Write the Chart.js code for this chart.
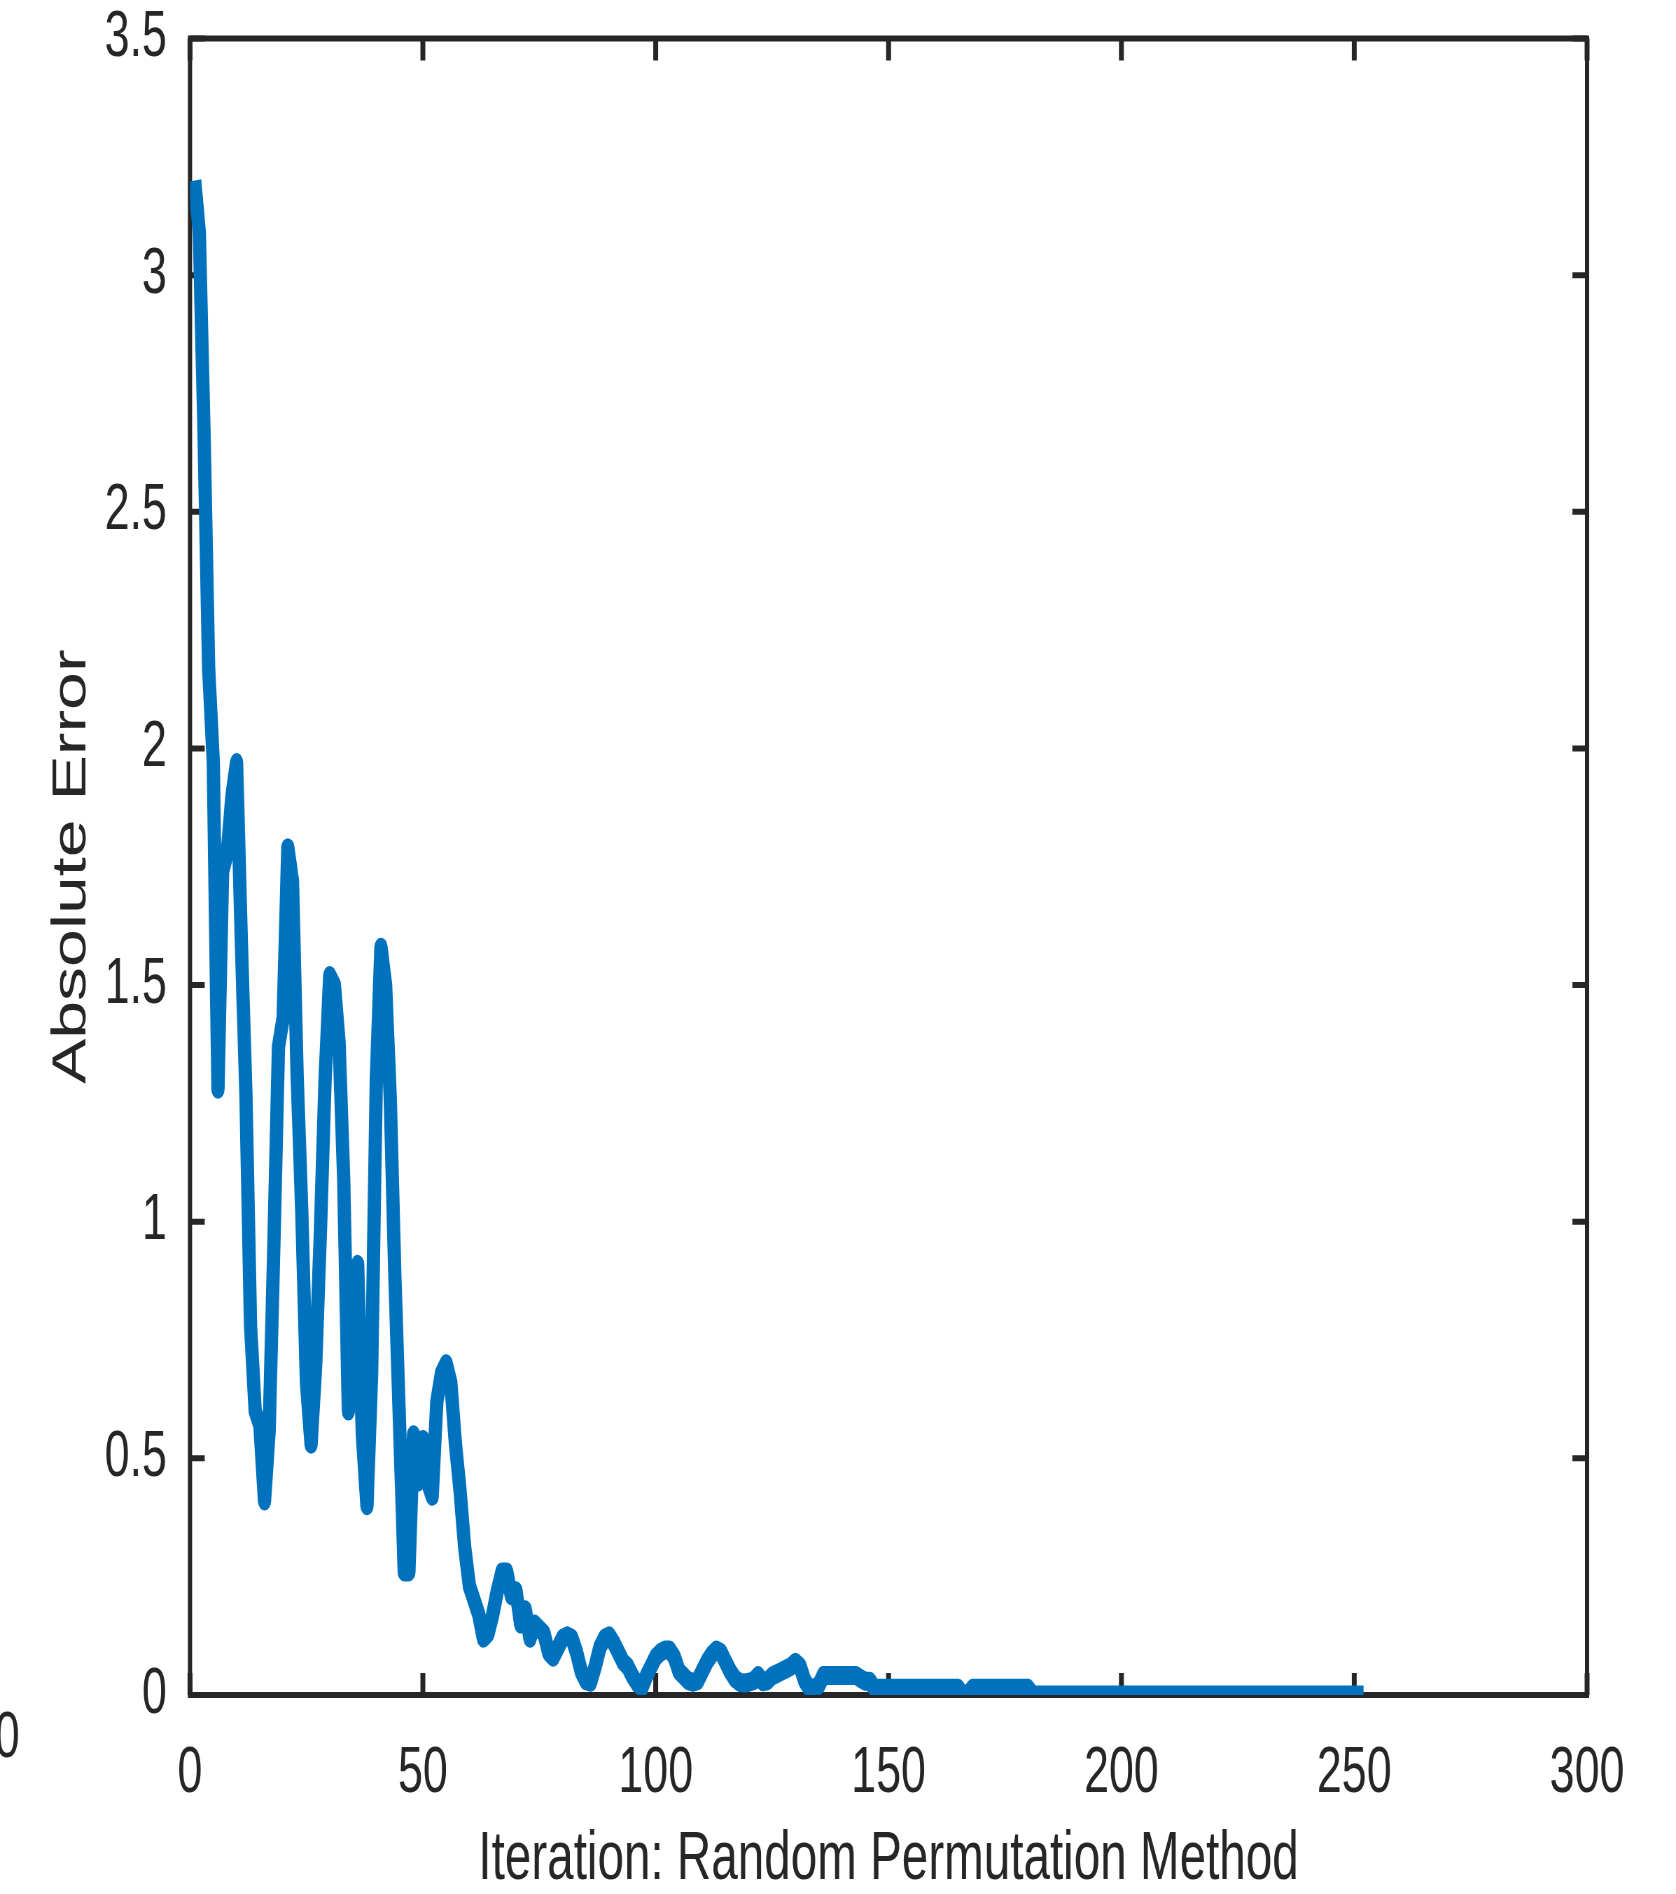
<!DOCTYPE html>
<html lang="en">
<head>
<meta charset="UTF-8">
<title>Absolute Error - Random Permutation Method</title>
<script src="https://cdn.jsdelivr.net/npm/chart.js@4"></script>
<style>
    body {
        margin: 0;
        background: #ffffff;
    }
    #wrap {
        width: 1676px;
        height: 1894px;
        overflow: hidden;
    }
    /* the original figure is squeezed horizontally, so draw wide and squeeze */
    #chart {
        width: 2394px;
        height: 1894px;
        transform: scaleX(0.70008);
        transform-origin: 0 0;
    }
</style>
</head>
<body>
<div id="wrap">
    <canvas id="chart" width="2394" height="1894"></canvas>
</div>
<script>
// absolute error per iteration (iteration 1 .. 252)
const errors = [
    3.20, 3.09, 2.67, 2.17, 1.97, 1.28, 1.74, 1.78, 1.90, 1.97,
    1.60, 1.27, 0.78, 0.60, 0.57, 0.41, 0.56, 0.95, 1.37, 1.43,
    1.79, 1.72, 1.31, 1.02, 0.66, 0.53, 0.70, 0.98, 1.30, 1.52,
    1.50, 1.38, 1.09, 0.60, 0.80, 0.91, 0.55, 0.40, 0.68, 1.30,
    1.58, 1.50, 1.26, 0.88, 0.57, 0.26, 0.26, 0.55, 0.45, 0.54,
    0.45, 0.42, 0.62, 0.68, 0.70, 0.66, 0.53, 0.43, 0.31, 0.23,
    0.20, 0.17, 0.12, 0.13, 0.17, 0.22, 0.26, 0.26, 0.21, 0.22,
    0.15, 0.18, 0.12, 0.15, 0.14, 0.13, 0.09, 0.08, 0.10, 0.12,
    0.125, 0.12, 0.09, 0.05, 0.03, 0.027, 0.06, 0.10, 0.12, 0.125,
    0.11, 0.09, 0.07, 0.06, 0.04, 0.025, 0.015, 0.04, 0.06, 0.08,
    0.09, 0.095, 0.095, 0.08, 0.05, 0.04, 0.03, 0.027, 0.03, 0.05,
    0.07, 0.085, 0.095, 0.09, 0.07, 0.05, 0.035, 0.027, 0.025, 0.027,
    0.03, 0.041, 0.028, 0.03, 0.04, 0.045, 0.05, 0.055, 0.06, 0.069,
    0.06, 0.03, 0.015, 0.015, 0.02, 0.041, 0.041, 0.041, 0.041, 0.041,
    0.041, 0.041, 0.041, 0.035, 0.029, 0.029, 0.014, 0.014, 0.014, 0.014,
    0.014, 0.014, 0.014, 0.014, 0.014, 0.014, 0.014, 0.014, 0.014, 0.014,
    0.014, 0.014, 0.014, 0.014, 0.014, 0, 0, 0.014, 0.014, 0.014,
    0.014, 0.014, 0.014, 0.014, 0.014, 0.014, 0.014, 0.014, 0.014, 0.014,
    0, 0, 0, 0, 0, 0, 0, 0, 0, 0,
    0, 0, 0, 0, 0, 0, 0, 0, 0, 0,
    0, 0, 0, 0, 0, 0, 0, 0, 0, 0,
    0, 0, 0, 0, 0, 0, 0, 0, 0, 0,
    0, 0, 0, 0, 0, 0, 0, 0, 0, 0,
    0, 0, 0, 0, 0, 0, 0, 0, 0, 0,
    0, 0, 0, 0, 0, 0, 0, 0, 0, 0,
    0, 0
];

const xTicks = [0, 50, 100, 150, 200, 250, 300];
const yTicks = [0, 0.5, 1, 1.5, 2, 2.5, 3, 3.5];

const xTitle = "Iteration: Random Permutation Method";
const yTitle = "Absolute Error";

const lineColor = "#0072BD";
const axisColor = "#262626";
const fontFamily = "'Liberation Sans', Arial, Helvetica, sans-serif";

const points = errors.map((v, k) => ({ x: k + 1, y: v }));

// MATLAB style box with inward ticks on all four sides
const boxPlugin = {
    id: "box",
    beforeDatasetsDraw(chart) {
        const { ctx, chartArea: a, scales } = chart;
        ctx.save();
        ctx.strokeStyle = axisColor;
        ctx.lineWidth = 6;
        ctx.strokeRect(a.left, a.top, a.right - a.left, a.bottom - a.top);

        ctx.beginPath();
        ctx.lineWidth = 7;
        scales.x.ticks.forEach(t => {
            const px = scales.x.getPixelForValue(t.value);
            ctx.moveTo(px, a.bottom);
            ctx.lineTo(px, a.bottom - 22);
            ctx.moveTo(px, a.top);
            ctx.lineTo(px, a.top + 22);
        });
        ctx.stroke();

        ctx.beginPath();
        ctx.lineWidth = 6;
        scales.y.ticks.forEach(t => {
            const py = scales.y.getPixelForValue(t.value);
            ctx.moveTo(a.left, py);
            ctx.lineTo(a.left + 21, py);
            ctx.moveTo(a.right, py);
            ctx.lineTo(a.right - 21, py);
        });
        ctx.stroke();
        ctx.restore();
    },
    afterDraw(chart) {
        // cut-off label of the neighbouring panel at the left edge
        const ctx = chart.ctx;
        ctx.save();
        ctx.fillStyle = axisColor;
        ctx.font = "64px " + fontFamily;
        ctx.textAlign = "right";
        ctx.textBaseline = "middle";
        ctx.fillText("0", 28, 1739);
        ctx.restore();
    }
};

const canvasWidth = 2394;

new Chart(document.getElementById("chart"), {
    type: "line",
    data: {
        datasets: [{
            data: points,
            borderColor: lineColor,
            borderWidth: 19,
            borderJoinStyle: "round",
            pointRadius: 0,
            tension: 0,
            fill: false
        }]
    },
    options: {
        responsive: false,
        maintainAspectRatio: false,
        animation: false,
        layout: {
            padding: { left: 0, top: 38.5, right: canvasWidth - 2267, bottom: 0 }
        },
        plugins: {
            legend: { display: false },
            tooltip: { enabled: false }
        },
        scales: {
            x: {
                type: "linear",
                min: xTicks[0],
                max: xTicks[xTicks.length - 1],
                grid: { display: false },
                border: { display: false },
                afterBuildTicks: s => { s.ticks = xTicks.map(v => ({ value: v })); },
                afterFit: s => {
                    s.height = 199;
                    s.paddingLeft = 0;
                    s.paddingRight = 0;
                },
                ticks: {
                    color: axisColor,
                    font: { family: fontFamily, size: 64 },
                    padding: 33,
                    maxRotation: 0,
                    autoSkip: false,
                    callback: v => String(v)
                },
                title: {
                    display: true,
                    text: xTitle,
                    color: axisColor,
                    font: { family: fontFamily, size: 68, lineHeight: 1 },
                    padding: { top: 0, bottom: 0 }
                }
            },
            y: {
                type: "linear",
                min: yTicks[0],
                max: yTicks[yTicks.length - 1],
                grid: { display: false },
                border: { display: false },
                afterBuildTicks: s => { s.ticks = yTicks.map(v => ({ value: v })); },
                afterFit: s => {
                    s.width = 271.4;
                    s.paddingTop = 0;
                    s.paddingBottom = 0;
                },
                ticks: {
                    color: axisColor,
                    font: { family: fontFamily, size: 64 },
                    padding: 25,
                    autoSkip: false,
                    callback: v => String(v)
                },
                title: {
                    display: true,
                    text: yTitle,
                    color: axisColor,
                    font: { family: fontFamily, size: 68, lineHeight: 1 },
                    padding: { top: 69, bottom: 0 }
                }
            }
        }
    },
    plugins: [boxPlugin]
});
</script>
</body>
</html>
